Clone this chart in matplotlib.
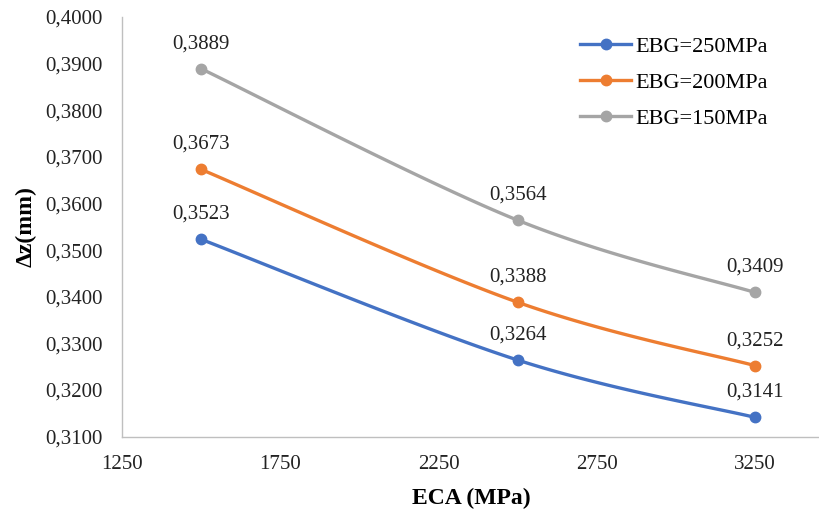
import matplotlib.pyplot as plt
import numpy as np
from matplotlib.ticker import FuncFormatter

# ECA values (MPa) and displacement dz (mm) for each EBG
eca = [1500, 2500, 3250]
dz_250 = [0.3523, 0.3264, 0.3141]
dz_200 = [0.3673, 0.3388, 0.3252]
dz_150 = [0.3889, 0.3564, 0.3409]

series = [
    ('EBG=250MPa', dz_250, '#4472C4'),
    ('EBG=200MPa', dz_200, '#ED7D31'),
    ('EBG=150MPa', dz_150, '#A5A5A5'),
]

x_ticks = [1250, 1750, 2250, 2750, 3250]
y_ticks = [0.31, 0.32, 0.33, 0.34, 0.35, 0.36, 0.37, 0.38, 0.39, 0.40]

plt.rcParams['font.family'] = ['Liberation Serif', 'DejaVu Serif']


def suavizar(xs, ys, n=60):
    # curva tipo Excel: bezier con puntos de control Catmull-Rom (tension 1/6)
    p = np.column_stack([xs, ys]).astype(float)
    pts = np.vstack([p[0], p, p[-1]])
    out = []
    t = np.linspace(0, 1, n)[:, None]
    for i in range(1, len(pts) - 2):
        p0, p1, p2, p3 = pts[i - 1], pts[i], pts[i + 1], pts[i + 2]
        c1 = p1 + (p2 - p0) / 6
        c2 = p2 - (p3 - p1) / 6
        seg = ((1 - t) ** 3) * p1 + 3 * ((1 - t) ** 2) * t * c1 \
            + 3 * (1 - t) * t ** 2 * c2 + t ** 3 * p2
        out.append(seg)
    out = np.vstack(out)
    return out[:, 0], out[:, 1]


def coma(v, pos):
    return ('%.4f' % v).replace('.', ',')


fig = plt.figure(figsize=(8.2, 5.15), dpi=100)
ax = fig.add_axes([122 / 820, 78.5 / 515, 1 - 122 / 820, (436.5 - 17) / 515])

for nombre, vals, color in series:
    sx, sy = suavizar(eca, vals)
    ax.plot(sx, sy, color=color, lw=2.4, solid_capstyle='round', zorder=2)
    ax.plot(eca, vals, 'o', color=color, ms=7.5, zorder=3)
    # linea de leyenda
    ax.plot([], [], '-o', color=color, lw=2.4, ms=7.5, label=nombre)
    for xv, yv in zip(eca, vals):
        ax.annotate(coma(yv, None), (xv, yv), xytext=(0, 18),
                    textcoords='offset points', ha='center', va='center',
                    fontsize=15, color='#222222')

ax.set_xlim(1250, 3455)
ax.set_ylim(0.31, 0.40)
ax.set_xticks(x_ticks)
ax.set_yticks(y_ticks)
ax.yaxis.set_major_formatter(FuncFormatter(coma))
ax.tick_params(length=0, labelsize=15, colors='#222222')
ax.tick_params(axis='x', pad=13)
ax.tick_params(axis='y', pad=14)

for s in ['top', 'right']:
    ax.spines[s].set_visible(False)
for s in ['left', 'bottom']:
    ax.spines[s].set_color('#BFBFBF')
    ax.spines[s].set_linewidth(1)

ax.set_xlabel('ECA (MPa)', fontsize=17, fontweight='bold', labelpad=10)
ax.set_ylabel('Δz(mm)', fontsize=17, fontweight='bold', labelpad=6)

ax.legend(loc='upper left', bbox_to_anchor=(580 / 820, 1 - 36 / 515),
          bbox_transform=fig.transFigure, frameon=False, fontsize=16,
          handlelength=2.3, handletextpad=0.2, labelspacing=0.7,
          borderaxespad=0, borderpad=0)

fig.savefig('out.png', dpi=100)
